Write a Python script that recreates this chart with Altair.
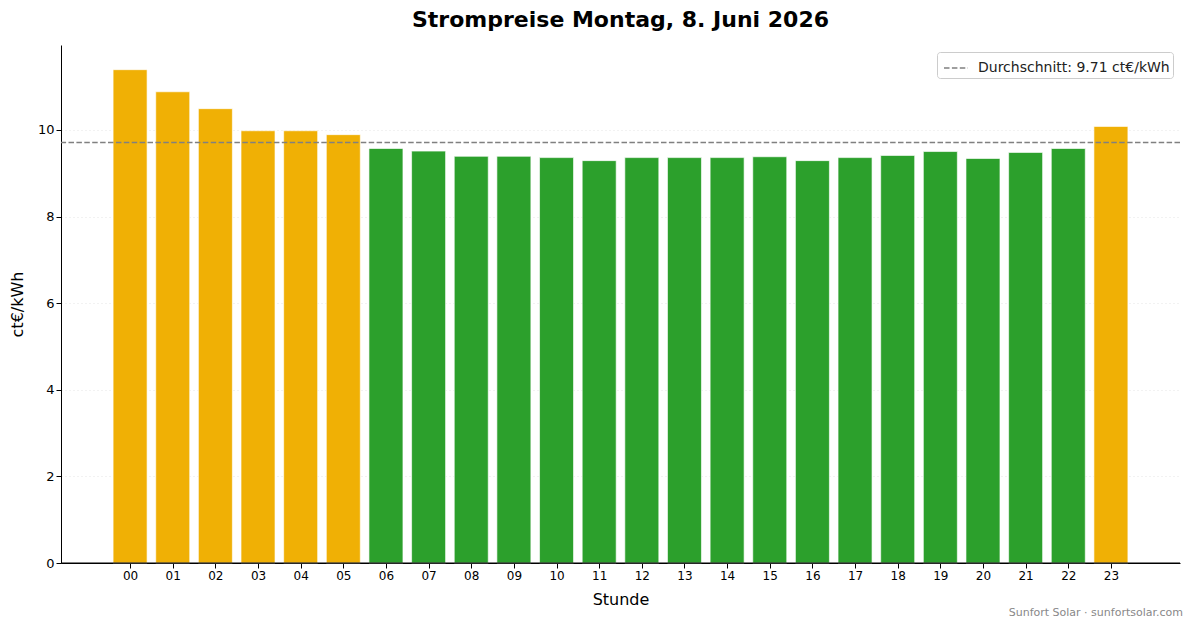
import altair as alt
import pandas as pd

hours = list(range(24))
prices = [11.39, 10.88, 10.49, 9.98, 9.98, 9.89, 9.57, 9.51, 9.39, 9.39, 9.36, 9.29,
          9.36, 9.36, 9.36, 9.38, 9.29, 9.36, 9.41, 9.50, 9.34, 9.48, 9.57, 10.08]
average = 9.71
avg_label = "Durchschnitt: 9.71 ct€/kWh"
title_text = "Strompreise Montag, 8. Juni 2026"
footer_text = "Sunfort Solar · sunfortsolar.com"

df = pd.DataFrame({"Stunde": hours, "Preis": prices})
df["Lage"] = ["hoch" if p > average else "niedrig" for p in prices]
avg_df = pd.DataFrame({"avg": [average], "label": [avg_label]})

W, H = 1119, 518
FONT = "DejaVu Sans"

x_enc = alt.X("Stunde:Q", title="Stunde",
              scale=alt.Scale(domain=[-1.62, 24.62], nice=False, zero=False, padding=0),
              axis=alt.Axis(values=hours, labelExpr="datum.value < 10 ? '0' + datum.value : '' + datum.value",
                            labelAngle=0, labelFontSize=12, titleFontSize=16,
                            titleFontWeight="normal", titlePadding=10,
                            tickSize=5, domainColor="black", tickColor="black",
                            labelColor="black", titleColor="black", grid=False,
                            labelFlush=False, labelOverlap=False))

bars = alt.Chart(df).mark_bar(size=34, stroke="white", strokeWidth=0.8, strokeOpacity=0.8).encode(
    x=x_enc,
    y=alt.Y("Preis:Q", title="ct€/kWh",
            scale=alt.Scale(domain=[0, 11.96], nice=False, zero=True),
            axis=alt.Axis(values=[0, 2, 4, 6, 8, 10], labelFontSize=13, titleFontSize=16,
                          titleFontWeight="normal", titlePadding=12,
                          tickSize=5, domainColor="black", tickColor="black",
                          labelColor="black", titleColor="black",
                          grid=True, gridColor="#dddddd", gridDash=[1, 3], gridWidth=0.8)),
    color=alt.Color("Lage:N", scale=alt.Scale(domain=["hoch", "niedrig"],
                                              range=["#F0B005", "#2CA02C"]), legend=None),
)

spine = alt.Chart(avg_df).mark_rule(color="black", strokeWidth=1).encode(
    x=alt.value(0), x2=alt.value(W), y=alt.value(H)
)

rule = alt.Chart(avg_df).mark_rule(color="#808080", strokeWidth=1.5).encode(
    y="avg:Q",
    strokeDash=alt.StrokeDash("label:N", scale=alt.Scale(range=[[5.5, 2.4]]),
                              legend=alt.Legend(title=None, orient="top-right",
                                                labelFontSize=14, labelColor="#222222",
                                                labelLimit=0, labelOffset=9,
                                                symbolType="stroke", symbolStrokeColor="#808080",
                                                symbolStrokeWidth=1.5, symbolSize=576,
                                                symbolOffset=3,
                                                fillColor="white", strokeColor="#cccccc",
                                                cornerRadius=3, padding=3, offset=7)),
)

footer = alt.Chart(avg_df).mark_text(align="right", baseline="middle", fontSize=11,
                                     color="#888888", font=FONT).encode(
    x=alt.value(W + 3), y=alt.value(H + 50), text=alt.value(footer_text)
)

chart = alt.layer(bars, spine, rule, footer).properties(
    width=W, height=H,
    title=alt.TitleParams(title_text, fontSize=22, fontWeight="bold", anchor="middle",
                          offset=13, color="black", font=FONT),
    autosize=alt.AutoSizeParams(type="none"),
    padding={"left": 53, "top": 37, "right": 5, "bottom": 57},
).configure(font=FONT).configure_view(stroke=None)

chart.save("out.html", embed_options={"renderer": "svg", "actions": False})
